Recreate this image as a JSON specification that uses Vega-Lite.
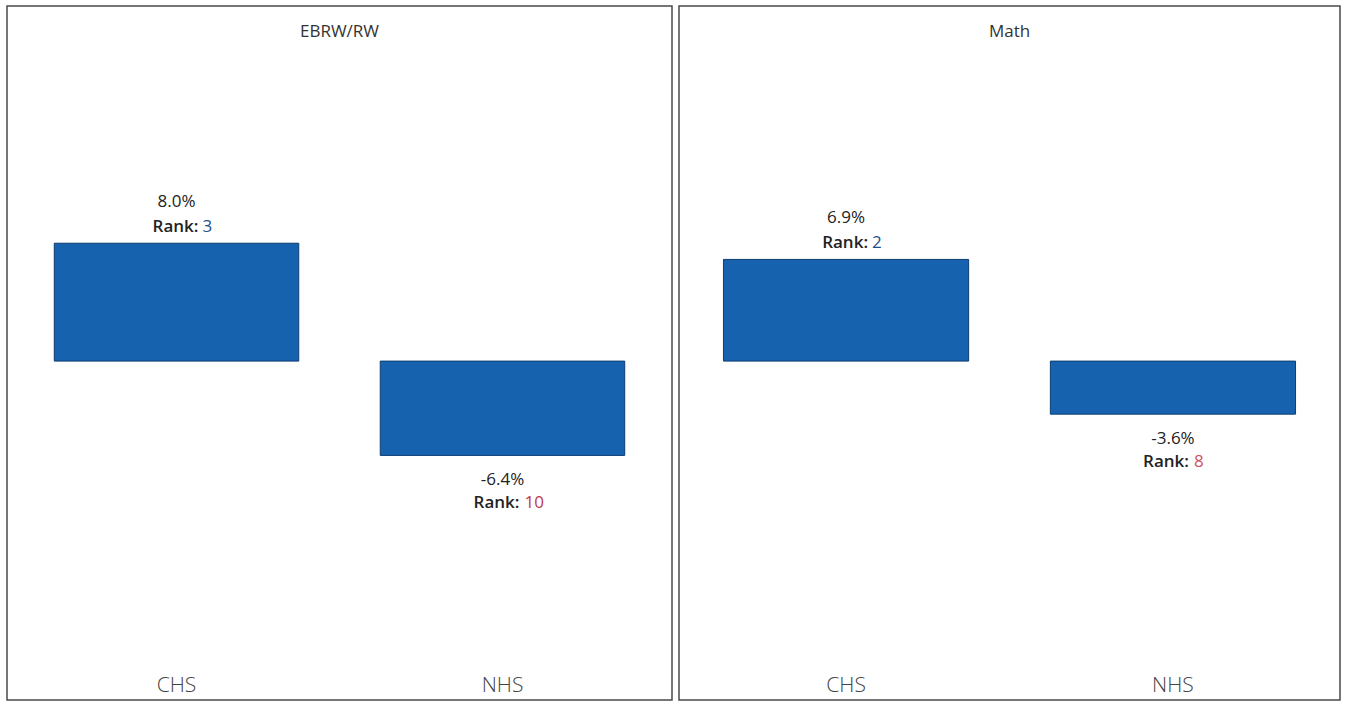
{
  "$schema": "https://vega.github.io/schema/vega-lite/v6.json",
  "background": "white",
  "padding": {"left": 6, "top": 5, "right": 5, "bottom": 0},
  "spacing": 5,
  "datasets": {
    "d": [
      {"subject": "EBRW/RW", "school": "CHS", "value": 0.080, "label": "8.0%", "rank": 3},
      {"subject": "EBRW/RW", "school": "NHS", "value": -0.064, "label": "-6.4%", "rank": 10},
      {"subject": "Math", "school": "CHS", "value": 0.069, "label": "6.9%", "rank": 2},
      {"subject": "Math", "school": "NHS", "value": -0.036, "label": "-3.6%", "rank": 8}
    ]
  },
  "hconcat": [
    {
      "title": {"text": "EBRW/RW", "offset": -48, "frame": "group", "baseline": "alphabetic"},
      "width": 665,
      "height": 694,
      "data": {"name": "d"},
      "transform": [{"filter": "datum.subject === 'EBRW/RW'"}],
      "encoding": {
        "x": {"field": "school", "type": "nominal", "title": null, "scale": {"paddingInner": 0.25, "paddingOuter": 0.145},
          "axis": {"orient": "bottom", "offset": -9, "labelPadding": 0, "labelBaseline": "alphabetic", "ticks": false, "domain": false, "labelAngle": 0, "labelFontSize": 21, "labelFont": "Open Sans", "labelColor": "#444", "labelFontWeight": 300, "grid": false}},
        "y": {"field": "value", "type": "quantitative", "scale": {"domain": [-0.23, 0.241], "nice": false}, "axis": null}
      },
      "layer": [
        {"mark": {"type": "bar", "color": "#1762ae", "stroke": "#0e3d70", "strokeWidth": 1}},
        {"transform": [{"filter": "datum.value > 0"}], "mark": {"type": "text", "baseline": "alphabetic", "dy": -36, "fontSize": 17, "font": "Open Sans", "color": "#222"}, "encoding": {"text": {"field": "label"}}},
        {"transform": [{"filter": "datum.value > 0"}], "mark": {"type": "text", "baseline": "alphabetic", "align": "right", "dx": 22, "dy": -11, "fontSize": 17, "font": "Open Sans", "fontWeight": 600, "color": "#222"}, "encoding": {"text": {"value": "Rank:"}}},
        {"transform": [{"filter": "datum.value > 0"}], "mark": {"type": "text", "baseline": "alphabetic", "align": "left", "dx": 26, "dy": -11, "fontSize": 17, "font": "Open Sans", "color": "#1f4e8c"}, "encoding": {"text": {"field": "rank"}}},
        {"transform": [{"filter": "datum.value < 0"}], "mark": {"type": "text", "baseline": "alphabetic", "dy": 30, "fontSize": 17, "font": "Open Sans", "color": "#222"}, "encoding": {"text": {"field": "label"}}},
        {"transform": [{"filter": "datum.value < 0"}], "mark": {"type": "text", "baseline": "alphabetic", "align": "right", "dx": 17, "dy": 53, "fontSize": 17, "font": "Open Sans", "fontWeight": 600, "color": "#222"}, "encoding": {"text": {"value": "Rank:"}}},
        {"transform": [{"filter": "datum.value < 0"}], "mark": {"type": "text", "baseline": "alphabetic", "align": "left", "dx": 22, "dy": 53, "fontSize": 17, "font": "Open Sans", "color": "#c0394b"}, "encoding": {"text": {"field": "rank"}}}
      ]
    },
    {
      "title": {"text": "Math", "offset": -48, "frame": "group", "baseline": "alphabetic"},
      "width": 661,
      "height": 694,
      "data": {"name": "d"},
      "transform": [{"filter": "datum.subject === 'Math'"}],
      "encoding": {
        "x": {"field": "school", "type": "nominal", "title": null, "scale": {"paddingInner": 0.25, "paddingOuter": 0.136},
          "axis": {"orient": "bottom", "offset": -9, "labelPadding": 0, "labelBaseline": "alphabetic", "ticks": false, "domain": false, "labelAngle": 0, "labelFontSize": 21, "labelFont": "Open Sans", "labelColor": "#444", "labelFontWeight": 300, "grid": false}},
        "y": {"field": "value", "type": "quantitative", "scale": {"domain": [-0.23, 0.241], "nice": false}, "axis": null}
      },
      "layer": [
        {"mark": {"type": "bar", "color": "#1762ae", "stroke": "#0e3d70", "strokeWidth": 1}},
        {"transform": [{"filter": "datum.value > 0"}], "mark": {"type": "text", "baseline": "alphabetic", "dy": -36, "fontSize": 17, "font": "Open Sans", "color": "#222"}, "encoding": {"text": {"field": "label"}}},
        {"transform": [{"filter": "datum.value > 0"}], "mark": {"type": "text", "baseline": "alphabetic", "align": "right", "dx": 22, "dy": -11, "fontSize": 17, "font": "Open Sans", "fontWeight": 600, "color": "#222"}, "encoding": {"text": {"value": "Rank:"}}},
        {"transform": [{"filter": "datum.value > 0"}], "mark": {"type": "text", "baseline": "alphabetic", "align": "left", "dx": 26, "dy": -11, "fontSize": 17, "font": "Open Sans", "color": "#1f4e8c"}, "encoding": {"text": {"field": "rank"}}},
        {"transform": [{"filter": "datum.value < 0"}], "mark": {"type": "text", "baseline": "alphabetic", "dy": 30, "fontSize": 17, "font": "Open Sans", "color": "#222"}, "encoding": {"text": {"field": "label"}}},
        {"transform": [{"filter": "datum.value < 0"}], "mark": {"type": "text", "baseline": "alphabetic", "align": "right", "dx": 16, "dy": 53, "fontSize": 17, "font": "Open Sans", "fontWeight": 600, "color": "#222"}, "encoding": {"text": {"value": "Rank:"}}},
        {"transform": [{"filter": "datum.value < 0"}], "mark": {"type": "text", "baseline": "alphabetic", "align": "left", "dx": 21, "dy": 53, "fontSize": 17, "font": "Open Sans", "color": "#d0505f"}, "encoding": {"text": {"field": "rank"}}}
      ]
    }
  ],
  "config": {
    "view": {"stroke": "#4a4a4a", "strokeWidth": 1.5},
    "title": {"font": "Open Sans", "fontSize": 17, "fontWeight": "normal", "color": "#333", "anchor": "middle"}
  }
}
